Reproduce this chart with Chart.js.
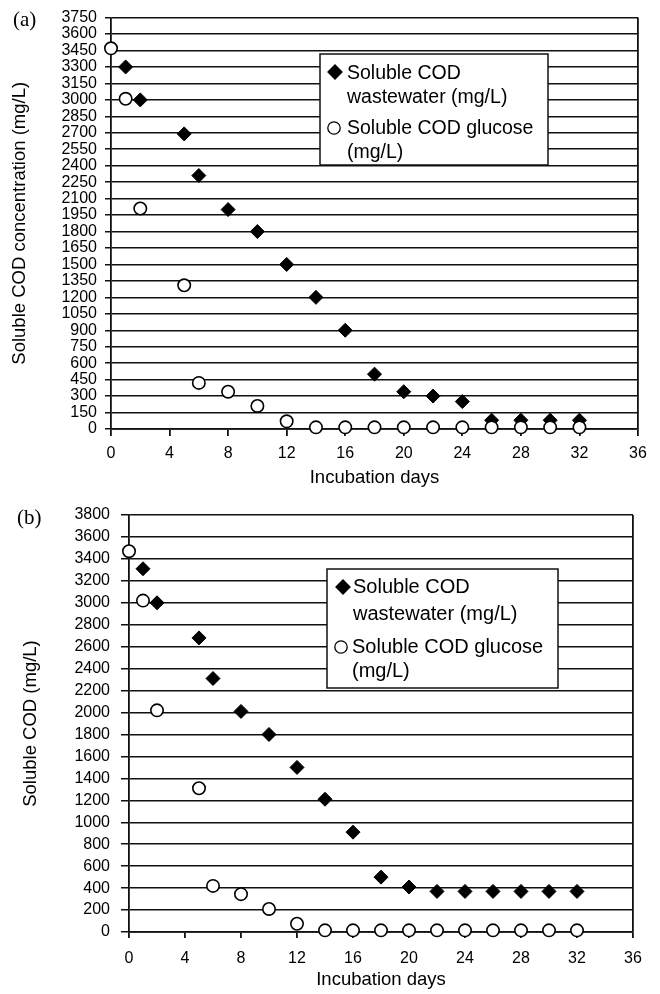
<!DOCTYPE html>
<html>
<head>
<meta charset="utf-8">
<script src="https://cdn.jsdelivr.net/npm/chart.js@4.4.1/dist/chart.umd.min.js"></script>
<style>
    body { margin: 0; background: #fff; }
    .panel { position: relative; width: 660px; }
    .tag { position: absolute; font-family: "Liberation Serif", "Times New Roman", serif; font-size: 21px; color: #000; }
</style>
</head>
<body>
<div class="panel" style="height:493px">
    <div class="tag" style="left:13px;top:7px">(a)</div>
    <canvas id="chartA" width="660" height="493"></canvas>
</div>
<div class="panel" style="height:501px">
    <div class="tag" style="left:17px;top:12px">(b)</div>
    <canvas id="chartB" width="660" height="501"></canvas>
</div>
<script>
// incubation days
var daysWastewater = [1, 2, 5, 6, 8, 10, 12, 14, 16, 18, 20, 22, 24, 26, 28, 30, 32];
var daysGlucose = [0, 1, 2, 5, 6, 8, 10, 12, 14, 16, 18, 20, 22, 24, 26, 28, 30, 32];

// panel (a) soluble COD (mg/L)
var wastewaterA = [3300, 3000, 2690, 2310, 2000, 1800, 1500, 1200, 900, 500, 340, 300, 250, 80, 80, 80, 80];
var glucoseA = [3470, 3010, 2010, 1310, 420, 340, 210, 70, 15, 15, 15, 15, 15, 15, 15, 15, 15, 15];

// panel (b) soluble COD (mg/L)
var wastewaterB = [3310, 3000, 2680, 2310, 2010, 1800, 1500, 1210, 910, 500, 410, 370, 370, 370, 370, 370, 370];
var glucoseB = [3470, 3020, 2020, 1310, 420, 345, 210, 75, 15, 15, 15, 15, 15, 15, 15, 15, 15, 15];

var xTitle = 'Incubation days';
var yTitleA = 'Soluble COD concentration (mg/L)';
var yTitleB = 'Soluble COD (mg/L)';
var legendWastewater = ['Soluble COD', 'wastewater (mg/L)'];
var legendGlucose = ['Soluble COD glucose', '(mg/L)'];

Chart.defaults.font.family = '"Liberation Sans", Arial, Helvetica, sans-serif';
Chart.defaults.color = '#000';

function toPoints(xs, ys) {
    return xs.map((x, i) => ({ x: x, y: ys[i] }));
}

// legend box drawn inside the plot, with wrapped labels
const boxLegend = {
    id: 'boxLegend',
    afterDatasetsDraw(chart, args, opts) {
        var ctx = chart.ctx;
        ctx.save();
        ctx.fillStyle = '#fff';
        ctx.strokeStyle = '#111';
        ctx.lineWidth = 1.5;
        ctx.fillRect(opts.x, opts.y, opts.w, opts.h);
        ctx.strokeRect(opts.x, opts.y, opts.w, opts.h);
        ctx.font = opts.size + 'px "Liberation Sans", Arial, sans-serif';
        ctx.textBaseline = 'alphabetic';
        opts.items.forEach(function(item, i) {
            var ds = chart.data.datasets[i];
            ctx.fillStyle = ds.backgroundColor;
            ctx.strokeStyle = ds.borderColor;
            ctx.lineWidth = 1.3;
            Chart.helpers.drawPoint(ctx, { pointStyle: ds.pointStyle, radius: item.r, borderWidth: 1.3, rotation: 0 }, item.mx, item.my);
            ctx.fillStyle = '#000';
            item.lines.forEach(function(t, j) {
                ctx.fillText(t, item.tx, item.base[j]);
            });
        });
        ctx.restore();
    }
};

function makePanel(id, wastewater, glucose, yMax, yStep, yTitle, geo) {
    var ctx = document.getElementById(id).getContext('2d');
    return new Chart(ctx, {
        type: 'scatter',
        data: {
            datasets: [{
                label: legendWastewater.join(' '),
                data: toPoints(daysWastewater, wastewater),
                pointStyle: 'rectRot',
                pointRadius: 7,
                pointHoverRadius: 7,
                backgroundColor: '#000',
                borderColor: '#000',
                borderWidth: 1,
                order: 1,
                clip: false
            }, {
                label: legendGlucose.join(' '),
                data: toPoints(daysGlucose, glucose),
                pointStyle: 'circle',
                pointRadius: 6.2,
                pointHoverRadius: 6.2,
                backgroundColor: '#fff',
                borderColor: '#000',
                borderWidth: 1.6,
                order: 0,
                clip: false
            }]
        },
        options: {
            responsive: false,
            animation: false,
            events: [],
            layout: { padding: geo.padding },
            plugins: {
                legend: { display: false },
                tooltip: { enabled: false },
                boxLegend: geo.legend
            },
            scales: {
                x: {
                    type: 'linear',
                    min: 0,
                    max: 36,
                    afterFit: function(scale) { scale.height = geo.xHeight; },
                    ticks: { stepSize: 4, font: { size: 16 }, padding: geo.xPad, maxRotation: 0, autoSkip: false, callback: v => String(v) },
                    grid: {
                        color: c => (c.tick && c.tick.value === 36) ? '#111' : 'rgba(0,0,0,0)',
                        tickColor: '#111',
                        lineWidth: 1.8,
                        tickLength: geo.xTick
                    },
                    border: { display: true, color: '#111', width: 1.8 },
                    title: { display: true, text: xTitle, font: { size: 18.5 }, padding: { top: 4, bottom: geo.xTitlePad } }
                },
                y: {
                    min: 0,
                    max: yMax,
                    afterFit: function(scale) { scale.width = geo.yWidth; },
                    ticks: { stepSize: yStep, font: { size: 16 }, padding: geo.yPad, autoSkip: false, callback: v => String(v) },
                    grid: { color: '#111', lineWidth: 1.5, tickLength: geo.yTick },
                    border: { display: true, color: '#111', width: 1.8 },
                    title: { display: true, text: yTitle, font: { size: 18.5 } }
                }
            }
        },
        plugins: [boxLegend]
    });
}

document.addEventListener('DOMContentLoaded', function() {
    makePanel('chartA', wastewaterA, glucoseA, 3750, 150, yTitleA, {
        padding: { left: 5, top: 14, right: 22, bottom: 0 },
        yWidth: 106, xHeight: 64, xPad: 8, yPad: 8, xTick: 7, yTick: 6, xTitlePad: 4,
        legend: {
            x: 320, y: 54, w: 228, h: 111, size: 19.5,
            items: [
                { mx: 335, my: 72, r: 7, tx: 347, lines: legendWastewater, base: [79, 103] },
                { mx: 334, my: 128, r: 6.2, tx: 347, lines: legendGlucose, base: [134, 158] }
            ]
        }
    });
    makePanel('chartB', wastewaterB, glucoseB, 3800, 200, yTitleB, {
        padding: { left: 16, top: 22, right: 27, bottom: 1 },
        yWidth: 113, xHeight: 61, xPad: 11, yPad: 11, xTick: 6, yTick: 8, xTitlePad: 2,
        legend: {
            x: 327, y: 76, w: 231, h: 119, size: 20,
            items: [
                { mx: 343, my: 94, r: 7, tx: 353, lines: legendWastewater, base: [100, 127] },
                { mx: 341, my: 154, r: 6.2, tx: 352, lines: legendGlucose, base: [160, 184] }
            ]
        }
    });
});
</script>
</body>
</html>
